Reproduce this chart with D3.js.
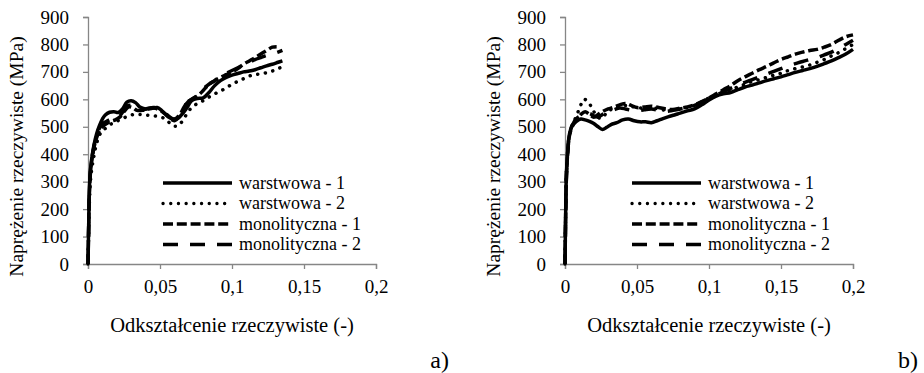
<!DOCTYPE html>
<html>
<head>
<meta charset="utf-8">
<script src="https://cdn.jsdelivr.net/npm/d3@7"></script>
<style>
  html, body { margin: 0; padding: 0; background: #fff; }
  svg text { font-family: "Liberation Serif", "DejaVu Serif", "Times New Roman", Times, serif !important; }
</style>
</head>
<body>
<svg id="chart" width="924" height="373"></svg>
<script>
// Tick values shared by both panels
const strainTicks = [0, 0.05, 0.1, 0.15, 0.2];
const stressTicks = [0, 100, 200, 300, 400, 500, 600, 700, 800, 900];

const seriesNames = ["warstwowa - 1", "warstwowa - 2", "monolityczna - 1", "monolityczna - 2"];

// Panel a) — [strain, stress MPa]
const aWarstwowa1 = [[0,0],[0.0005,150],[0.001,280],[0.002,360],[0.004,430],[0.006,475],[0.008,505],[0.010,528],[0.012,543],[0.015,553],[0.018,555],[0.021,552],[0.024,565],[0.027,590],[0.030,595],[0.033,588],[0.036,572],[0.040,565],[0.044,567],[0.048,570],[0.051,560],[0.054,545],[0.057,532],[0.060,527],[0.063,533],[0.066,550],[0.069,572],[0.072,595],[0.076,603],[0.080,605],[0.084,625],[0.088,650],[0.092,668],[0.096,680],[0.100,688],[0.104,694],[0.108,700],[0.112,703],[0.116,708],[0.120,715],[0.124,722],[0.128,728],[0.132,735],[0.135,740]];
const aWarstwowa2 = [[0,0],[0.0005,120],[0.001,230],[0.002,320],[0.004,390],[0.006,440],[0.008,470],[0.010,485],[0.013,498],[0.016,510],[0.019,518],[0.022,525],[0.026,535],[0.030,543],[0.034,545],[0.038,544],[0.042,542],[0.046,540],[0.050,536],[0.054,528],[0.057,512],[0.060,502],[0.063,505],[0.066,525],[0.069,550],[0.072,570],[0.076,585],[0.080,595],[0.084,608],[0.088,620],[0.092,630],[0.096,642],[0.100,655],[0.104,665],[0.108,675],[0.112,685],[0.116,690],[0.120,693],[0.124,697],[0.128,703],[0.132,712],[0.135,718]];
const aMonolityczna1 = [[0,0],[0.0005,140],[0.001,260],[0.002,350],[0.004,420],[0.006,460],[0.008,485],[0.010,500],[0.013,512],[0.016,520],[0.019,525],[0.022,535],[0.025,555],[0.028,572],[0.031,570],[0.034,560],[0.038,560],[0.042,565],[0.046,568],[0.050,560],[0.054,545],[0.057,530],[0.060,522],[0.063,535],[0.066,565],[0.069,590],[0.072,600],[0.076,612],[0.080,632],[0.084,655],[0.088,668],[0.092,680],[0.096,690],[0.100,700],[0.104,712],[0.108,728],[0.112,740],[0.116,752],[0.120,765],[0.124,778],[0.128,790],[0.131,792]];
const aMonolityczna2 = [[0,0],[0.0005,140],[0.001,270],[0.002,355],[0.004,425],[0.006,468],[0.008,495],[0.010,510],[0.013,520],[0.016,528],[0.019,530],[0.022,540],[0.025,560],[0.028,578],[0.031,575],[0.034,568],[0.038,562],[0.042,568],[0.046,570],[0.050,562],[0.054,548],[0.057,535],[0.060,528],[0.063,540],[0.066,565],[0.069,588],[0.072,600],[0.076,615],[0.080,638],[0.084,655],[0.088,668],[0.092,685],[0.096,695],[0.100,705],[0.104,715],[0.108,725],[0.112,735],[0.116,745],[0.120,752],[0.124,760],[0.128,765],[0.132,772],[0.135,778]];

// Panel b) — [strain, stress MPa]
const bWarstwowa1 = [[0,0],[0.0005,200],[0.001,330],[0.002,420],[0.003,470],[0.005,505],[0.008,520],[0.011,528],[0.014,525],[0.017,520],[0.020,512],[0.023,500],[0.026,490],[0.029,498],[0.032,508],[0.036,515],[0.040,525],[0.044,528],[0.048,522],[0.052,518],[0.056,518],[0.060,515],[0.064,522],[0.068,530],[0.072,537],[0.076,543],[0.080,550],[0.085,558],[0.090,565],[0.095,580],[0.100,598],[0.105,612],[0.110,620],[0.115,625],[0.120,635],[0.125,645],[0.130,652],[0.135,660],[0.140,668],[0.145,675],[0.150,682],[0.155,690],[0.160,698],[0.165,705],[0.170,712],[0.175,720],[0.180,730],[0.185,740],[0.190,752],[0.195,765],[0.200,782]];
const bWarstwowa2 = [[0,0],[0.0005,200],[0.001,330],[0.002,420],[0.003,470],[0.005,505],[0.008,540],[0.011,580],[0.013,600],[0.016,592],[0.019,565],[0.022,540],[0.025,530],[0.028,545],[0.031,560],[0.035,570],[0.040,578],[0.045,575],[0.050,570],[0.055,568],[0.060,570],[0.065,565],[0.070,560],[0.075,562],[0.080,565],[0.085,570],[0.090,578],[0.095,590],[0.100,605],[0.105,615],[0.110,625],[0.115,635],[0.120,645],[0.125,655],[0.130,665],[0.135,672],[0.140,680],[0.145,688],[0.150,695],[0.155,705],[0.160,712],[0.165,718],[0.170,725],[0.175,735],[0.180,745],[0.185,758],[0.190,770],[0.195,785],[0.200,800]];
const bMonolityczna1 = [[0,0],[0.0005,190],[0.001,320],[0.002,415],[0.003,465],[0.005,500],[0.008,525],[0.011,545],[0.014,555],[0.017,545],[0.020,535],[0.023,545],[0.026,555],[0.030,565],[0.034,572],[0.038,580],[0.042,585],[0.046,578],[0.050,570],[0.055,572],[0.060,575],[0.065,570],[0.070,565],[0.075,563],[0.080,568],[0.085,572],[0.090,580],[0.095,592],[0.100,605],[0.105,620],[0.110,635],[0.115,650],[0.120,668],[0.125,682],[0.130,695],[0.135,708],[0.140,720],[0.145,733],[0.150,745],[0.155,755],[0.160,765],[0.165,772],[0.170,778],[0.175,782],[0.180,790],[0.185,800],[0.190,815],[0.195,828],[0.200,835]];
const bMonolityczna2 = [[0,0],[0.0005,190],[0.001,320],[0.002,415],[0.003,465],[0.005,505],[0.008,530],[0.011,540],[0.014,545],[0.017,548],[0.020,540],[0.023,535],[0.026,545],[0.030,555],[0.034,562],[0.038,568],[0.042,565],[0.046,560],[0.050,558],[0.055,562],[0.060,565],[0.065,560],[0.070,556],[0.075,560],[0.080,565],[0.085,570],[0.090,578],[0.095,590],[0.100,603],[0.105,615],[0.110,628],[0.115,640],[0.120,652],[0.125,662],[0.130,672],[0.135,682],[0.140,692],[0.145,702],[0.150,712],[0.155,722],[0.160,730],[0.165,738],[0.170,745],[0.175,752],[0.180,762],[0.185,772],[0.190,785],[0.195,800],[0.200,815]];

// Line appearance per series (solid, round dot, dash, long dash)
const lineStyles = [
  { dash: null, cap: "butt" },
  { dash: "0.1 7.6", cap: "round" },
  { dash: "10 3.8", cap: "butt" },
  { dash: "15 12", cap: "butt" }
];

const serif = "Liberation Serif, DejaVu Serif, Times New Roman, serif";
const svg = d3.select("#chart").attr("font-family", serif);
const fmt = d => String(d).replace(".", ",");

const panels = [
  { left: 88, label: "a)", labelX: 449, legendX: 163, series: [aWarstwowa1, aWarstwowa2, aMonolityczna1, aMonolityczna2] },
  { left: 565, label: "b)", labelX: 918, legendX: 632, series: [bWarstwowa1, bWarstwowa2, bMonolityczna1, bMonolityczna2] }
];

const plotTop = 17, plotBottom = 264, plotW = 288;

panels.forEach(p => {
  const x = d3.scaleLinear().domain([0, 0.2]).range([p.left, p.left + plotW]);
  const y = d3.scaleLinear().domain([0, 900]).range([plotBottom, plotTop]);
  const g = svg.append("g");

  // axes
  const xAxis = g.append("g").attr("transform", `translate(0,${plotBottom})`)
    .call(d3.axisBottom(x).tickValues(strainTicks).tickFormat(fmt).tickSize(5).tickPadding(11));
  const yAxis = g.append("g").attr("transform", `translate(${p.left},0)`)
    .call(d3.axisLeft(y).tickValues(stressTicks).tickSize(5).tickPadding(14));
  [xAxis, yAxis].forEach(a => {
    a.attr("font-family", serif).attr("font-size", 19);
    a.select(".domain").attr("stroke", "#868686").attr("stroke-width", 1.3);
    a.selectAll(".tick line").attr("stroke", "#868686").attr("stroke-width", 1.3);
    a.selectAll(".tick text").attr("fill", "#000");
  });

  // curves
  const line = d3.line().x(d => x(d[0])).y(d => y(d[1])).curve(d3.curveCatmullRom.alpha(0.5));
  p.series.forEach((s, i) => {
    const st = lineStyles[i];
    g.append("path").datum(s)
      .attr("d", line)
      .attr("fill", "none")
      .attr("stroke", "#000")
      .attr("stroke-width", 3.5)
      .attr("stroke-linejoin", "round")
      .attr("stroke-linecap", st.cap)
      .attr("stroke-dasharray", st.dash);
  });

  // legend
  const lg = g.append("g").attr("font-size", 18);
  seriesNames.forEach((name, i) => {
    const yy = 183 + i * 20.5;
    const st = lineStyles[i];
    lg.append("line")
      .attr("x1", p.legendX).attr("x2", p.legendX + 69)
      .attr("y1", yy).attr("y2", yy)
      .attr("stroke", "#000").attr("stroke-width", 3.3)
      .attr("stroke-linecap", st.cap)
      .attr("stroke-dasharray", st.dash);
    lg.append("text")
      .attr("x", p.legendX + 76).attr("y", yy + 5.5)
      .text(name);
  });

  // axis titles
  g.append("text")
    .attr("transform", `translate(${p.left - 65},${(plotTop + plotBottom) / 2 + 16}) rotate(-90)`)
    .attr("text-anchor", "middle")
    .attr("font-size", 19.5)
    .text("Naprężenie rzeczywiste (MPa)");
  g.append("text")
    .attr("x", p.left + plotW / 2).attr("y", 332)
    .attr("text-anchor", "middle")
    .attr("font-size", 20.5)
    .text("Odkształcenie rzeczywiste (-)");

  // panel letter
  g.append("text")
    .attr("x", p.labelX).attr("y", 368)
    .attr("text-anchor", "end")
    .attr("font-size", 24)
    .text(p.label);
});
</script>
</body>
</html>
